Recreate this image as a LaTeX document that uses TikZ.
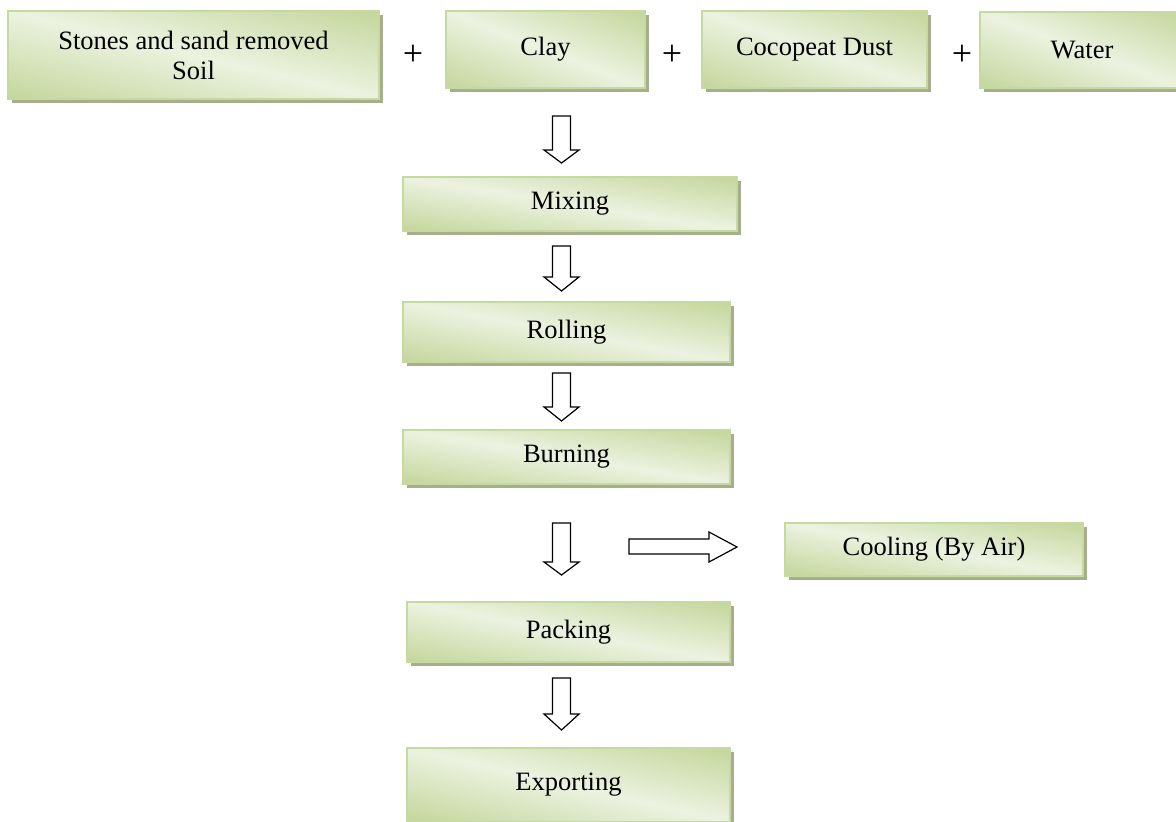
\documentclass[tikz,border=0pt]{standalone}
\usepackage{fontspec}
\setmainfont{Liberation Serif}
\usetikzlibrary{shadows}
\definecolor{gborder}{RGB}{198,217,160}
\definecolor{gshadow}{RGB}{166,174,140}
\pgfdeclarefunctionalshading{diagband}{\pgfpoint{0bp}{0bp}}{\pgfpoint{100bp}{100bp}}{}{%
 add 100 sub abs 50 div dup -0.1608 mul 0.9255 add exch dup -0.1098 mul 0.9490 add exch -0.2706 mul 0.8784 add}
\tikzset{
 stepbox/.style={draw=gborder, line width=1.1pt, shade, shading=diagband, shading angle=0,
   drop shadow={shadow xshift=3.2pt, shadow yshift=-3.2pt, fill=gshadow, opacity=1},
   inner sep=0pt, align=center, font=\fontsize{19.9}{22.5}\selectfont, text=black},
 blk/.style={draw=black, fill=white, line width=0.9pt, line join=miter},
 plussign/.style={font=\fontsize{27}{27}\selectfont, inner sep=0pt}
}
\newcommand\boxnode[6]{\node[stepbox, minimum width={(#4-#2)*0.75pt}, minimum height={(#5-#3)*0.75pt}] (#1) at ({(#2+#4)/2},{(#3+#5)/2}) {#6};}
\newcommand\blkdown[4]{\draw[blk] (#1-9,#2) -- (#1+9,#2) -- (#1+9,#3) -- (#1+17.5,#3) -- (#1,#4) -- (#1-17.5,#3) -- (#1-9,#3) -- cycle;}
\begin{document}
\begin{tikzpicture}[x=0.75pt,y=-0.75pt]
\clip (0,0) rectangle (1176,821);
\fill[white] (0,0) rectangle (1176,821);
\boxnode{stones}{8}{11}{379}{99}{Stones and sand removed\\Soil}
\boxnode{clay}{446}{11}{645}{88}{Clay}
\boxnode{coco}{702}{11}{927}{88}{Cocopeat Dust}
\boxnode{water}{980}{12}{1184}{88}{Water}
\node[plussign] (p1) at (413,55) {+};
\node[plussign] (p2) at (672,55) {+};
\node[plussign] (p3) at (962,55) {+};
\boxnode{mix}{403}{177}{737}{231}{Mixing}
\boxnode{roll}{403}{302}{730}{362}{Rolling}
\boxnode{burn}{403}{430}{730}{484}{Burning}
\boxnode{cool}{785}{523}{1083}{576}{Cooling (By Air)}
\boxnode{pack}{407}{602}{730}{662}{Packing}
\boxnode{exp}{407}{748}{730}{822}{Exporting}
\blkdown{561.5}{116}{150}{163}
\blkdown{561.5}{246}{277}{291}
\blkdown{561.5}{373}{407}{421}
\blkdown{561.5}{523}{562}{575}
\blkdown{561.5}{678}{714}{730}
\draw[blk] (629,539) -- (709,539) -- (709,532) -- (737,547) -- (709,562) -- (709,554) -- (629,554) -- cycle;
\end{tikzpicture}
\end{document}
